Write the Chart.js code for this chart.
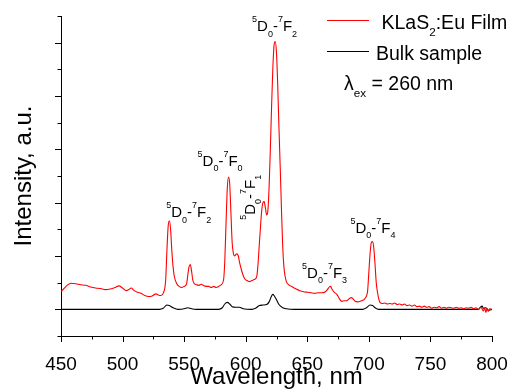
<!DOCTYPE html>
<html lang="en">
<head>
    <meta charset="UTF-8">
    <title>KLaS2:Eu luminescence</title>
    <script src="https://cdn.jsdelivr.net/npm/chart.js"></script>
    <style>
        html, body { margin: 0; padding: 0; background: #fff; }
        #chart { display: block; }
    </style>
</head>
<body>
    <canvas id="chart" width="512" height="392"></canvas>
    <script>
        // Film spectrum (red)
        const filmWl = [450, 452, 455, 458, 462, 466, 470, 474, 478, 482, 486, 490, 494, 497, 500, 503, 505, 507, 509, 512,
            515, 518, 521, 524, 527, 529, 531, 533, 535, 536, 537, 538, 539, 540, 541, 542, 544, 546, 548, 550,
            552, 553, 554, 555, 556, 557, 558, 560, 562, 564, 566, 568, 570, 572, 574, 576, 578, 580, 582, 583,
            584, 585, 586, 587, 588, 589, 590, 591, 592, 593, 594, 595, 597, 599, 601, 603, 605, 607, 609, 610,
            611, 612, 613, 614, 615, 616, 617, 618, 619, 620, 621, 622, 623, 624, 625, 626, 627, 628, 629, 630,
            631, 632, 633, 635, 638, 641, 644, 647, 650, 653, 656, 659, 662, 664, 666, 668, 669, 670, 672, 674,
            676, 678, 680, 682, 684, 686, 687, 689, 691, 693, 695, 697, 699, 700, 701, 702, 703, 704, 705, 706,
            707, 708, 709, 711, 713, 715, 717, 719, 721, 723, 725, 727, 729, 731, 733, 735, 737, 739, 741, 743,
            745, 747, 749, 751, 753, 755, 757, 759, 761, 763, 765, 767, 769, 771, 773, 775, 777, 779, 781, 783,
            785, 787, 789, 791, 793, 794, 795, 796, 797, 798, 800];
        const filmInt = [0.33, 0.38, 0.45, 0.49, 0.48, 0.46, 0.45, 0.42, 0.40, 0.39, 0.37, 0.38, 0.41, 0.44, 0.40, 0.35, 0.37, 0.40, 0.36, 0.32,
            0.30, 0.26, 0.24, 0.25, 0.29, 0.27, 0.26, 0.30, 0.55, 1.10, 1.55, 1.66, 1.50, 1.10, 0.80, 0.62, 0.48, 0.43, 0.41, 0.43,
            0.48, 0.65, 0.80, 0.84, 0.72, 0.55, 0.49, 0.46, 0.45, 0.47, 0.44, 0.43, 0.43, 0.41, 0.43, 0.41, 0.43, 0.46, 0.55, 0.90,
            1.60, 2.25, 2.48, 2.35, 1.80, 1.25, 1.05, 1.00, 1.03, 1.04, 1.00, 0.88, 0.70, 0.58, 0.54, 0.52, 0.54, 0.56, 0.62, 0.85,
            1.20, 1.55, 1.85, 2.00, 2.02, 1.90, 1.77, 1.85, 2.30, 3.00, 3.80, 4.50, 4.95, 5.02, 4.80, 4.20, 3.40, 2.68, 1.90, 1.20,
            0.80, 0.62, 0.52, 0.46, 0.42, 0.38, 0.35, 0.33, 0.32, 0.31, 0.30, 0.31, 0.31, 0.32, 0.36, 0.42, 0.43, 0.38, 0.32, 0.28,
            0.20, 0.15, 0.16, 0.16, 0.20, 0.22, 0.20, 0.15, 0.14, 0.15, 0.17, 0.21, 0.35, 0.70, 1.05, 1.25, 1.27, 1.15, 0.85, 0.50,
            0.32, 0.20, 0.13, 0.11, 0.12, 0.10, 0.11, 0.10, 0.12, 0.09, 0.10, 0.08, 0.10, 0.07, 0.08, 0.06, 0.08, 0.05, 0.06, 0.04,
            0.06, 0.04, 0.05, 0.02, 0.04, 0.03, 0.05, 0.02, 0.04, 0.02, 0.04, 0.03, 0.02, 0.04, 0.02, 0.03, 0.01, 0.03, 0.02, 0.04,
            0.01, 0.03, 0.00, 0.04, -0.03, 0.03, -0.06, 0.02, -0.04, 0.01, 0.00];

        // Bulk spectrum (black)
        const bulkWl = [450, 530, 533, 536, 538, 541, 545, 550, 553, 556, 560, 578, 581, 583, 585, 587, 589, 592, 595, 598,
            605, 608, 611, 614, 617, 619, 621, 622, 623, 625, 627, 630, 633, 640, 695, 698, 701, 703, 705, 708,
            789, 791, 792, 793, 795, 797, 800];
        const bulkInt = [0.00, 0.00, 0.02, 0.08, 0.07, 0.03, 0.00, 0.01, 0.03, 0.01, 0.00, 0.00, 0.03, 0.10, 0.13, 0.10, 0.05, 0.04, 0.04, 0.01,
            0.00, 0.02, 0.07, 0.08, 0.09, 0.14, 0.25, 0.28, 0.26, 0.18, 0.09, 0.03, 0.01, 0.00, 0.00, 0.03, 0.08, 0.07, 0.03, 0.00,
            0.00, 0.05, 0.06, 0.02, 0.03, -0.02, 0.00];

        const xTicks = [450, 500, 550, 600, 650, 700, 750, 800];
        const seriesNames = ['KLaS2:Eu Film', 'Bulk sample'];

        const FONT = "'Liberation Sans', Arial, sans-serif";

        // draw text made of normal / sup / sub parts, returns end x
        function drawRich(ctx, parts, x, y, size) {
            ctx.save();
            ctx.textBaseline = 'alphabetic';
            ctx.textAlign = 'left';
            parts.forEach(p => {
                let fs = size, dy = 0;
                if (p[1] === 'sup') { fs = size * 0.6; dy = -size * 0.6; }
                if (p[1] === 'sub') { fs = size * 0.6; dy = size * 0.37; }
                ctx.font = fs + 'px ' + FONT;
                ctx.fillText(p[0], x, y + dy);
                x += ctx.measureText(p[0]).width;
            });
            ctx.restore();
            return x;
        }

        function transition(n) {
            return [['5', 'sup'], ['D'], ['0', 'sub'], ['-'], ['7', 'sup'], ['F'], [String(n), 'sub']];
        }

        // peak labels, anchored in data coordinates
        const peakLabels = [
            { wl: 535.4, v: 1.73, n: 2 },
            { wl: 560.9, v: 2.69, n: 0 },
            { wl: 607.9, v: 1.68, n: 1, rot: true },
            { wl: 605.2, v: 5.21, n: 2 },
            { wl: 645.8, v: 0.59, n: 3 },
            { wl: 685.1, v: 1.44, n: 4 }
        ];

        const decorPlugin = {
            id: 'decor',
            afterDraw(chart) {
                const ctx = chart.ctx;
                const xs = chart.scales.x, ys = chart.scales.y;
                const area = chart.chartArea;
                ctx.save();
                ctx.strokeStyle = '#000';
                ctx.lineWidth = 1;
                // tick marks, outward
                ctx.beginPath();
                for (let v = 450; v <= 800; v += 25) {
                    const px = Math.round(xs.getPixelForValue(v)) + 0.5;
                    const len = v % 50 === 0 ? 6 : 3.5;
                    ctx.moveTo(px, area.bottom);
                    ctx.lineTo(px, area.bottom + len);
                }
                for (let v = -0.5; v <= 5.51; v += 0.5) {
                    const py = Math.round(ys.getPixelForValue(v)) + 0.5;
                    const len = Math.abs(v - Math.round(v)) < 0.01 ? 6 : 3.5;
                    ctx.moveTo(area.left, py);
                    ctx.lineTo(area.left - len, py);
                }
                ctx.stroke();

                // peak labels
                ctx.fillStyle = '#000';
                peakLabels.forEach(l => {
                    const px = xs.getPixelForValue(l.wl);
                    const py = ys.getPixelForValue(l.v);
                    if (l.rot) {
                        ctx.save();
                        ctx.translate(px, py);
                        ctx.rotate(-Math.PI / 2);
                        drawRich(ctx, transition(l.n), 0, 0, 15);
                        ctx.restore();
                    } else {
                        drawRich(ctx, transition(l.n), px, py, 15);
                    }
                });

                // legend
                ctx.lineWidth = 1;
                ctx.strokeStyle = '#ff0000';
                ctx.beginPath();
                ctx.moveTo(327, 20.5);
                ctx.lineTo(369, 20.5);
                ctx.stroke();
                ctx.strokeStyle = '#000';
                ctx.beginPath();
                ctx.moveTo(327, 51.5);
                ctx.lineTo(369, 51.5);
                ctx.stroke();
                drawRich(ctx, [['KLaS'], ['2', 'sub'], [':Eu Film']], 381.5, 28.5, 19.5);
                drawRich(ctx, [[seriesNames[1]]], 376, 59.5, 19.5);
                drawRich(ctx, [['\u03bb'], ['ex', 'sub'], [' = 260 nm']], 344, 90, 19.5);
                ctx.restore();
            }
        };

        new Chart(document.getElementById('chart'), {
            type: 'line',
            data: {
                datasets: [
                    {
                        label: seriesNames[0],
                        data: filmWl.map((x, i) => ({ x: x, y: filmInt[i] })),
                        borderColor: '#ff0000',
                        borderWidth: 1.1,
                        pointRadius: 0,
                        cubicInterpolationMode: 'monotone'
                    },
                    {
                        label: seriesNames[1],
                        data: bulkWl.map((x, i) => ({ x: x, y: bulkInt[i] })),
                        borderColor: '#000000',
                        borderWidth: 1.1,
                        pointRadius: 0,
                        cubicInterpolationMode: 'monotone'
                    }
                ]
            },
            options: {
                responsive: false,
                animation: false,
                layout: { padding: { top: 16, right: 20, left: 0, bottom: 0 } },
                plugins: {
                    legend: { display: false },
                    tooltip: { enabled: false }
                },
                scales: {
                    x: {
                        type: 'linear',
                        min: 450,
                        max: 800,
                        afterBuildTicks: s => { s.ticks = xTicks.map(v => ({ value: v })); },
                        afterFit: s => { s.height = 56; s.paddingLeft = 0; s.paddingRight = 0; },
                        grid: { display: false },
                        border: { display: true, color: '#000', width: 1 },
                        ticks: {
                            color: '#000',
                            font: { family: FONT, size: 19 },
                            padding: 9,
                            maxRotation: 0,
                            autoSkip: false
                        },
                        title: {
                            display: true,
                            text: 'Wavelength, nm',
                            color: '#000',
                            font: { family: FONT, size: 24 },
                            padding: { top: 0, bottom: 0 }
                        }
                    },
                    y: {
                        min: -0.5,
                        max: 5.5,
                        afterFit: s => { s.width = 61; },
                        grid: { display: false },
                        border: { display: true, color: '#000', width: 1 },
                        ticks: { display: false },
                        title: {
                            display: true,
                            text: 'Intensity, a.u.',
                            color: '#000',
                            font: { family: FONT, size: 24 },
                            padding: { top: 10, bottom: 0 }
                        }
                    }
                }
            },
            plugins: [decorPlugin]
        });
    </script>
</body>
</html>
